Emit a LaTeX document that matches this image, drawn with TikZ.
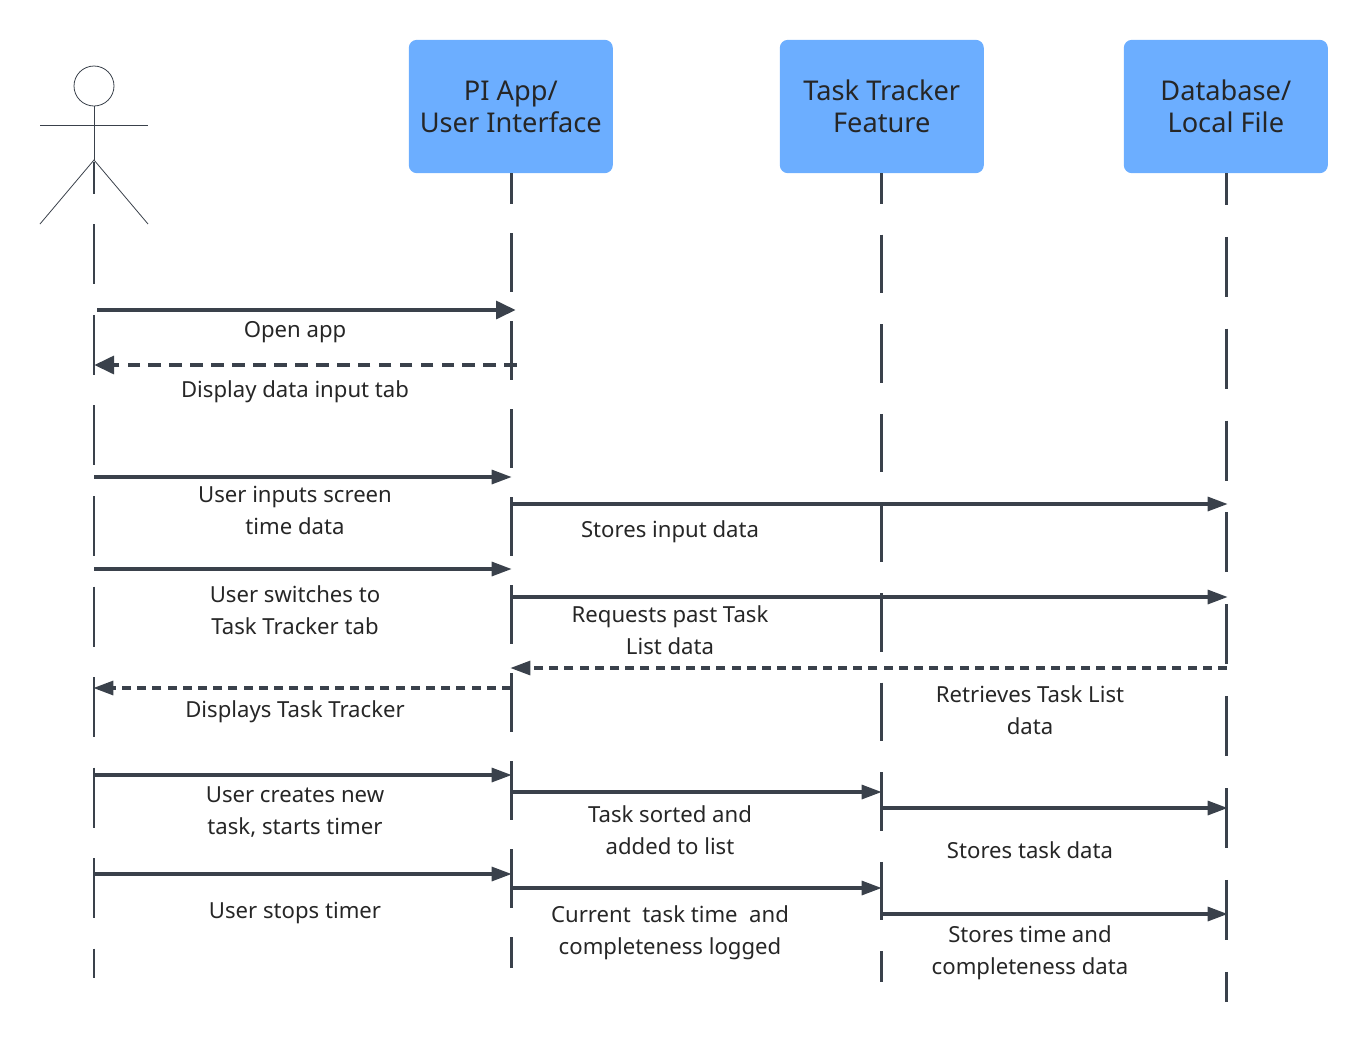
\documentclass[tikz,border=0pt]{standalone}
\usepackage{fontspec}
\setmainfont{Noto Sans}
\usetikzlibrary{arrows.meta}
\definecolor{lifecol}{HTML}{3A414B}
\definecolor{headcol}{HTML}{6CAEFF}
\tikzset{
  headbox/.style={draw=none,fill=headcol,rounded corners=6pt,minimum width=153pt,
    minimum height=100pt,align=center,text=black!85,font=\fontsize{20.4}{24}\selectfont},
  msglabel/.style={align=center,text=black!85,font=\fontsize{16.6}{24}\selectfont},
  stick/.style={draw=lifecol,line width=0.6pt},
  lifeline/.style={draw=lifecol,line width=2pt},
  msg/.style={draw=lifecol,line width=2.3pt,-{Triangle[length=15pt,width=10.5pt]},shorten >=-0.5pt},
  msgthick/.style={draw=lifecol,line width=3.7pt,-{Triangle[length=15pt,width=13pt]}},
  reply/.style={msg,dash pattern=on 6.8pt off 4.6pt},
  replythick/.style={msgthick,dash pattern=on 9.5pt off 6.2pt},
}
\begin{document}
\begin{tikzpicture}[x=0.75pt,y=-0.75pt]
\useasboundingbox (0,0) rectangle (1369,1043);
% heads
\node[headbox] (app) at (510.8,106.5) {\raisebox{-1.5pt}{PI App/}\\\raisebox{-1.5pt}{User Interface}};
\node[headbox] (tracker) at (881.8,106.5) {Task Tracker\\Feature};
\node[headbox] (store) at (1225.8,106.5) {Database/\\Local File};
% actor
\node[circle,stick,fill=white,minimum size=30pt,inner sep=0pt] (head) at (94,86) {};
\coordinate (hip) at (94,160);
\coordinate (armL) at (40,125);
\coordinate (armR) at (148,125);
\coordinate (legL) at (40,224);
\coordinate (legR) at (148,224);
\draw[stick] (head) -- (hip);
\draw[stick] (armL) -- (armR);
\draw[stick] (legL) -- (hip) -- (legR);
% lifelines
\coordinate (actorA) at (94,162);
\coordinate (actorB) at (94,978);
\coordinate (appA) at (511.5,173);
\coordinate (appB) at (511.5,968);
\coordinate (trackerA) at (881.5,173);
\coordinate (trackerB) at (881.5,982);
\coordinate (storeA) at (1226.5,173);
\coordinate (storeB) at (1226.5,1002);
\draw[lifeline,dash pattern=on 45pt off 22.9pt,dash phase=21.1pt] (actorA) -- (actorB);
\draw[lifeline,dash pattern=on 44.2pt off 21.8pt,dash phase=21pt] (appA) -- (appB);
\draw[lifeline,dash pattern=on 44pt off 23.2pt,dash phase=21pt] (trackerA) -- (trackerB);
\draw[lifeline,dash pattern=on 45pt off 23.9pt,dash phase=21pt] (storeA) -- (storeB);
% messages
\coordinate (m1a) at (97,310);
\coordinate (m1b) at (516,310);
\draw[msgthick] (m1a) -- (m1b);
\node[msglabel] (l1) at (295,332) {Open app};
\coordinate (m2a) at (517,365);
\coordinate (m2b) at (94,365);
\draw[replythick] (m2a) -- (m2b);
\node[msglabel] (l2) at (295,392) {Display data input tab};
\coordinate (m3a) at (94,477);
\coordinate (m3b) at (511,477);
\draw[msg] (m3a) -- (m3b);
\node[msglabel] (l3) at (295,510) {User inputs screen\\time data};
\coordinate (m4a) at (511,504);
\coordinate (m4b) at (1227,504);
\draw[msg] (m4a) -- (m4b);
\node[msglabel] (l4) at (670,532) {Stores input data};
\coordinate (m5a) at (94,569);
\coordinate (m5b) at (511,569);
\draw[msg] (m5a) -- (m5b);
\node[msglabel] (l5) at (295,610) {User switches to\\Task Tracker tab};
\coordinate (m6a) at (511,597);
\coordinate (m6b) at (1227,597);
\draw[msg] (m6a) -- (m6b);
\node[msglabel] (l6) at (670,630) {Requests past Task\\List data};
\coordinate (m7a) at (1227,668);
\coordinate (m7b) at (511,668);
\draw[reply] (m7a) -- (m7b);
\node[msglabel] (l7) at (1030,710) {Retrieves Task List\\data};
\coordinate (m8a) at (511,688);
\coordinate (m8b) at (94,688);
\draw[reply] (m8a) -- (m8b);
\node[msglabel] (l8) at (295,712) {Displays Task Tracker};
\coordinate (m9a) at (94,775);
\coordinate (m9b) at (511,775);
\draw[msg] (m9a) -- (m9b);
\node[msglabel] (l9) at (295,812) {User creates new\\task, starts timer};
\coordinate (m10a) at (511,792);
\coordinate (m10b) at (881,792);
\draw[msg] (m10a) -- (m10b);
\node[msglabel] (l10) at (670,830) {Task sorted and\\added to list};
\coordinate (m11a) at (881,808);
\coordinate (m11b) at (1227,808);
\draw[msg] (m11a) -- (m11b);
\node[msglabel] (l11) at (1030,850) {Stores task data};
\coordinate (m12a) at (94,874);
\coordinate (m12b) at (511,874);
\draw[msg] (m12a) -- (m12b);
\node[msglabel] (l12) at (295,912.5) {User stops timer};
\coordinate (m13a) at (511,888);
\coordinate (m13b) at (881,888);
\draw[msg] (m13a) -- (m13b);
\node[msglabel] (l13) at (670,933) {Current\ \ task time\ \ and\\completeness logged};
\coordinate (m14a) at (881,914);
\coordinate (m14b) at (1227,914);
\draw[msg] (m14a) -- (m14b);
\node[msglabel] (l14) at (1030,953) {Stores time and\\completeness data};
\end{tikzpicture}
\end{document}
